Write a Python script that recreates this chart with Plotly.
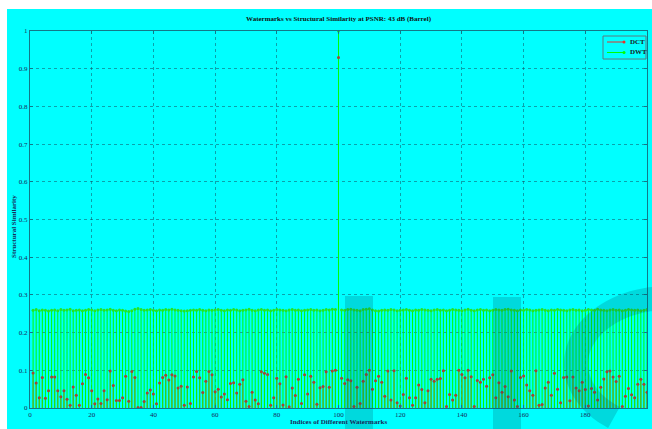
import plotly.graph_objects as go
import numpy as np

# ---------------- data ----------------
indices = list(range(1, 201))

dct_ssim = [
    0.093, 0.066, 0.027, 0.081, 0.026, 0.046, 0.082, 0.082, 0.046, 0.030,
    0.046, 0.023, 0.007, 0.056, 0.034, 0.007, 0.064, 0.089, 0.080, 0.046,
    0.011, 0.024, 0.012, 0.046, 0.022, 0.098, 0.060, 0.020, 0.020, 0.027,
    0.084, 0.018, 0.097, 0.081, 0.001, 0.001, 0.017, 0.040, 0.048, 0.037,
    0.011, 0.066, 0.081, 0.087, 0.074, 0.088, 0.085, 0.053, 0.058, 0.007,
    0.056, 0.012, 0.082, 0.097, 0.080, 0.041, 0.071, 0.097, 0.088, 0.043,
    0.050, 0.029, 0.037, 0.022, 0.065, 0.067, 0.040, 0.063, 0.075, 0.018,
    0.004, 0.042, 0.021, 0.011, 0.096, 0.092, 0.089, 0.007, 0.027, 0.079,
    0.064, 0.008, 0.083, 0.003, 0.053, 0.033, 0.076, 0.012, 0.088, 0.037,
    0.084, 0.068, 0.010, 0.054, 0.057, 0.096, 0.055, 0.098, 0.100, 0.930,
    0.079, 0.065, 0.075, 0.072, 0.004, 0.055, 0.012, 0.071, 0.089, 0.100,
    0.050, 0.072, 0.084, 0.068, 0.031, 0.098, 0.021, 0.099, 0.014, 0.005,
    0.036, 0.079, 0.027, 0.007, 0.027, 0.061, 0.049, 0.014, 0.046, 0.076,
    0.071, 0.076, 0.078, 0.099, 0.004, 0.036, 0.021, 0.034, 0.100, 0.089,
    0.080, 0.100, 0.083, 0.004, 0.073, 0.068, 0.076, 0.058, 0.080, 0.088,
    0.027, 0.067, 0.042, 0.057, 0.030, 0.098, 0.021, 0.004, 0.081, 0.085,
    0.061, 0.046, 0.034, 0.099, 0.007, 0.009, 0.053, 0.068, 0.034, 0.092,
    0.050, 0.014, 0.081, 0.082, 0.019, 0.082, 0.053, 0.046, 0.068, 0.049,
    0.005, 0.052, 0.042, 0.021, 0.055, 0.077, 0.096, 0.098, 0.082, 0.070,
    0.084, 0.004, 0.031, 0.052, 0.035, 0.027, 0.063, 0.076, 0.063, 0.042,
]

dwt_ssim = [
    0.259, 0.261, 0.258, 0.260, 0.259, 0.257, 0.259, 0.260, 0.258, 0.261,
    0.259, 0.260, 0.262, 0.258, 0.259, 0.260, 0.258, 0.259, 0.261, 0.260,
    0.258, 0.260, 0.261, 0.259, 0.260, 0.262, 0.259, 0.258, 0.260, 0.259,
    0.257, 0.256, 0.258, 0.262, 0.264, 0.261, 0.259, 0.260, 0.261, 0.259,
    0.258, 0.260, 0.259, 0.261, 0.260, 0.262, 0.260, 0.259, 0.258, 0.257,
    0.258, 0.259, 0.260, 0.259, 0.261, 0.259, 0.258, 0.260, 0.259, 0.260,
    0.261, 0.259, 0.258, 0.260, 0.259, 0.261, 0.260, 0.258, 0.259, 0.260,
    0.262, 0.259, 0.258, 0.260, 0.261, 0.259, 0.260, 0.258, 0.259, 0.261,
    0.260, 0.259, 0.258, 0.260, 0.261, 0.259, 0.260, 0.258, 0.259, 0.260,
    0.261, 0.259, 0.260, 0.258, 0.259, 0.261, 0.260, 0.262, 0.261, 1.000,
    0.260, 0.259, 0.261, 0.262, 0.260, 0.259, 0.258, 0.261, 0.262, 0.263,
    0.260, 0.258, 0.257, 0.259, 0.260, 0.259, 0.261, 0.260, 0.258, 0.259,
    0.260, 0.261, 0.259, 0.258, 0.260, 0.259, 0.261, 0.260, 0.259, 0.258,
    0.260, 0.261, 0.259, 0.260, 0.258, 0.259, 0.261, 0.260, 0.259, 0.258,
    0.260, 0.262, 0.259, 0.258, 0.260, 0.261, 0.259, 0.260, 0.258, 0.259,
    0.261, 0.260, 0.259, 0.261, 0.262, 0.260, 0.259, 0.258, 0.260, 0.259,
    0.261, 0.260, 0.258, 0.259, 0.260, 0.261, 0.259, 0.258, 0.260, 0.259,
    0.261, 0.260, 0.259, 0.258, 0.260, 0.261, 0.259, 0.260, 0.258, 0.259,
    0.261, 0.260, 0.259, 0.262, 0.260, 0.259, 0.258, 0.260, 0.261, 0.259,
    0.260, 0.258, 0.259, 0.261, 0.260, 0.259, 0.260, 0.258, 0.259, 0.261,
]

series_names = ["DCT", "DWT"]
series_colors = ["#e8302a", "#00ff00"]

x_ticks = [0, 20, 40, 60, 80, 100, 120, 140, 160, 180, 200]
y_ticks = [0, 0.1, 0.2, 0.3, 0.4, 0.5, 0.6, 0.7, 0.8, 0.9, 1]
y_tick_labels = ["0", "0.1", "0.2", "0.3", "0.4", "0.5", "0.6", "0.7", "0.8", "0.9", "1"]

title_text = "Watermarks vs Structural Similarity at PSNR: 43 dB (Barrel)"
x_title = "Indices of Different Watermarks"
y_title = "Structural Similarity"


def stems(xv, yv):
    xs, ys = [], []
    for a, b in zip(xv, yv):
        xs += [a, a, None]
        ys += [0, b, None]
    return xs, ys


W, H = 652, 429
ML, MR, MT, MB = 30, 5, 31, 21
PW, PH = W - ML - MR, H - MT - MB


def px(xp):
    return (xp - ML) / PW


def py(yp):
    return (H - MB - yp) / PH


SERIF = "Liberation Serif, Times New Roman, serif"

fig = go.Figure()

dx, dy = stems(indices, dct_ssim)
fig.add_trace(go.Scatter(x=dx, y=dy, mode="lines", name=series_names[0], showlegend=False,
                         line=dict(color=series_colors[0], width=1), hoverinfo="skip"))
wx, wy = stems(indices, dwt_ssim)
fig.add_trace(go.Scatter(x=wx, y=wy, mode="lines", name=series_names[1], showlegend=False,
                         line=dict(color=series_colors[1], width=1), hoverinfo="skip"))
fig.add_trace(go.Scatter(x=indices, y=dwt_ssim, mode="markers", showlegend=False,
                         marker=dict(color="#22e622", size=3)))
fig.add_trace(go.Scatter(x=indices, y=dct_ssim, mode="markers", showlegend=False,
                         marker=dict(color="#a04a30", size=3)))

shapes = []
annotations = []
# cyan figure background
shapes.append(dict(type="rect", xref="paper", yref="paper", layer="below",
                   x0=px(7), x1=px(660), y0=py(440), y1=py(9),
                   fillcolor="#00ffff", line=dict(width=0)))

# legend box (compact, MATLAB style)
shapes.append(dict(type="rect", xref="paper", yref="paper", layer="above",
                   x0=px(603), x1=px(646), y0=py(59), y1=py(36),
                   fillcolor="#00ffff", line=dict(color="#5a7a80", width=1)))
for k, (nm, col) in enumerate(zip(series_names, series_colors)):
    yy = 42 + k * 10.5
    shapes.append(dict(type="line", xref="paper", yref="paper", layer="above",
                       x0=px(607), x1=px(624), y0=py(yy), y1=py(yy),
                       line=dict(color=col, width=1)))
    shapes.append(dict(type="circle", xref="paper", yref="paper", layer="above",
                       x0=px(622.5), x1=px(625.5), y0=py(yy + 1.5), y1=py(yy - 1.5),
                       fillcolor=col, line=dict(color=col, width=0)))
    annotations.append(dict(text=f"<b>{nm}</b>", xref="paper", yref="paper",
                            x=px(628), y=py(yy), xanchor="left", yanchor="middle",
                            showarrow=False,
                            font=dict(family=SERIF, size=7, color="#1a1a1a")))

# publisher watermark overlay
wm = "rgba(0,80,100,0.22)"
shapes.append(dict(type="rect", xref="paper", yref="paper", layer="above",
                   x0=px(345), x1=px(373), y0=py(440), y1=py(296),
                   fillcolor=wm, line=dict(width=0)))
shapes.append(dict(type="rect", xref="paper", yref="paper", layer="above",
                   x0=px(493), x1=px(521), y0=py(440), y1=py(297),
                   fillcolor=wm, line=dict(width=0)))
t = np.linspace(-np.pi / 2, -np.pi * 1.3, 40)
cx, cy, rx, ry = 668, 364, 92, 66
pts = [(cx + rx * np.cos(a), cy + ry * np.sin(a)) for a in t]
path = "M " + " L ".join(f"{px(a):.4f},{py(b):.4f}" for a, b in pts)
shapes.append(dict(type="path", xref="paper", yref="paper", layer="above",
                   path=path, line=dict(color=wm, width=24)))

annotations += [
    dict(text=f"<b>{x_title}</b>", xref="paper", yref="paper",
         x=0.5, y=py(422), xanchor="center", yanchor="middle", showarrow=False,
         font=dict(family=SERIF, size=7, color="#1a2a5a")),
    dict(text=f"<b>{y_title}</b>", xref="paper", yref="paper", textangle=-90,
         x=px(14), y=py(227), xanchor="center", yanchor="middle", showarrow=False,
         font=dict(family=SERIF, size=7, color="#1a2a5a")),
]

axis_common = dict(showline=True, mirror="ticks", linecolor="#127888", linewidth=1,
                   ticks="inside", ticklen=3, tickcolor="#127888",
                   showgrid=True, gridcolor="rgba(20,70,90,0.5)", griddash="dot",
                   gridwidth=1, zeroline=False,
                   tickfont=dict(family=SERIF, size=7, color="#1a2a5a"))

fig.update_layout(
    width=W, height=H, autosize=False,
    margin=dict(l=ML, r=MR, t=MT, b=MB, autoexpand=False),
    paper_bgcolor="white", plot_bgcolor="rgba(0,0,0,0)",
    title=dict(text=f"<b>{title_text}</b>", x=0.5, xref="paper",
               y=1 - 19 / H, yanchor="middle",
               font=dict(family=SERIF, size=7, color="#101010")),
    xaxis=dict(range=[0, 200], tickvals=x_ticks, **axis_common),
    yaxis=dict(range=[0, 1], tickvals=y_ticks, ticktext=y_tick_labels, **axis_common),
    shapes=shapes, annotations=annotations,
    showlegend=False,
)

fig.write_html("out.html",
               config={"displayModeBar": False, "staticPlot": True},
               post_script="document.body.style.margin='0px';"
                           "document.body.style.overflow='hidden';")
